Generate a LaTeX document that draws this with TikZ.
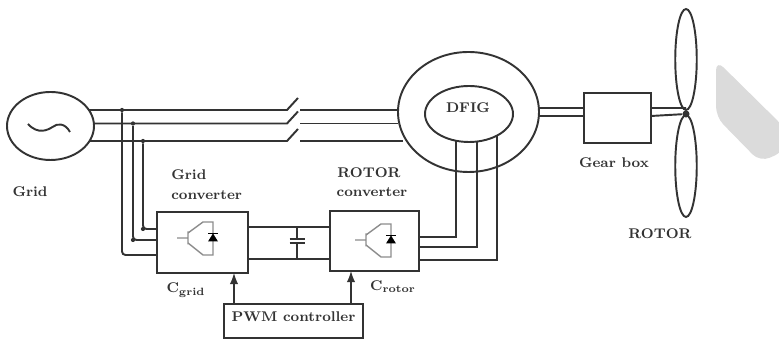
\documentclass[tikz,border=0pt]{standalone}
\usetikzlibrary{shapes.geometric}
\tikzset{
    wire/.style={draw=black!80, line width=1.1pt},
    machine/.style={ellipse, draw=black!80, line width=1.1pt, inner sep=0pt, outer sep=0pt},
    block/.style={rectangle, draw=black!80, line width=1.2pt, inner sep=0pt, outer sep=0pt},
    label text/.style={font=\footnotesize\bfseries, text=black!80, inner sep=0pt},
    joint/.style={circle, fill=black!80, inner sep=0pt, minimum size=2.4pt},
    igbt/.pic={
        \draw [black!45, line width=0.8pt] (0,0) -- (0.22,0) (0.22,0.13) -- (0.22,-0.13)
            (0.22,0.10) -- (0.52,0.32) -- (0.72,0.32) -- (0.72,-0.34) -- (0.52,-0.34) -- (0.22,-0.10);
        \fill [black] (0.62,-0.07) -- (0.82,-0.07) -- (0.72,0.09) -- cycle;
        \draw [black, line width=0.8pt] (0.62,0.09) -- (0.82,0.09);
    }
}
\begin{document}
\begin{tikzpicture}[x=1cm, y=1cm, >=latex]
    \useasboundingbox (0,0) rectangle (15.58,6.82);

    % Grey corner
    \fill [black!14, rounded corners=6pt] (14.32,5.62) -- (15.70,4.26) -- (15.70,3.80) -- (15.20,3.58) -- (14.32,4.48) -- cycle;

    % Machines
    \node [machine, minimum width=1.74cm, minimum height=1.36cm] (grid) at (1.01,4.30) {};
    \node [machine, minimum width=2.82cm, minimum height=2.40cm] (stator) at (9.37,4.58) {};
    \node [machine, minimum width=1.76cm, minimum height=1.12cm] (dfig) at (9.38,4.54) {};
    \node [label text] (dfigtext) at (9.36,4.66) {DFIG};
    \draw [wire] (0.56,4.34) .. controls (0.76,4.12) and (0.96,4.22) .. (1.05,4.28) .. controls (1.15,4.36) and (1.30,4.36) .. (1.40,4.18);

    % Converters
    \node [block, minimum width=1.82cm, minimum height=1.22cm] (gridconv) at (4.05,1.97) {};
    \node [block, minimum width=1.78cm, minimum height=1.20cm] (rotorconv) at (7.49,2.00) {};
    \node [block, minimum width=2.78cm, minimum height=0.68cm, font=\footnotesize\bfseries, text=black!80, text depth=1.8mm] (pwm) at (5.87,0.40) {PWM controller};
    \node [block, minimum width=1.34cm, minimum height=1.00cm] (gearbox) at (12.35,4.46) {};
    \pic at (3.54,2.06) {igbt};
    \pic at (7.10,2.02) {igbt};

    % Phases and switches
    \foreach \ph/\yy/\xa/\xb in {a/4.62/1.78/7.94, b/4.35/1.88/7.96, c/4.00/1.79/8.06} {
        \coordinate (\ph1) at (\xa,\yy);
        \coordinate (\ph2) at (5.74,\yy);
        \coordinate (\ph3) at (5.96,\yy+0.24);
        \coordinate (\ph4) at (6.00,\yy);
        \coordinate (\ph5) at (\xb,\yy);
        \draw [wire] (\ph1) -- (\ph2) -- (\ph3);
        \draw [wire] (\ph4) -- (\ph5);
    }

    % Taps to grid converter
    \foreach \ph/\xx/\yy/\yc in {a/2.44/1.72/4.62, b/2.66/2.02/4.35, c/2.86/2.24/4.00} {
        \node [joint] (tap\ph) at (\xx,\yc) {};
        \coordinate (in\ph) at (3.14,\yy);
        \draw [wire, rounded corners=2pt] (tap\ph) |- (in\ph);
    }
    \node [joint] (cornerb) at (2.66,2.02) {};
    \node [joint] (cornerc) at (2.86,2.24) {};

    % DC link
    \coordinate (dctop) at (5.94,2.28);
    \coordinate (dcbot) at (5.94,1.64);
    \coordinate (platea) at (5.94,2.04);
    \coordinate (plateb) at (5.94,1.96);
    \draw [wire] (4.96,2.28) -- (6.60,2.28);
    \draw [wire] (4.96,1.64) -- (6.60,1.64);
    \draw [wire] (dctop) -- (platea) (plateb) -- (dcbot);
    \draw [wire, line width=1.2pt] (5.79,2.04) -- (6.09,2.04) (5.79,1.96) -- (6.09,1.96);

    % Rotor side
    \foreach \nm/\xx/\yt/\yb in {p/9.12/4.00/2.08, q/9.54/3.98/1.88, r/9.94/4.12/1.62} {
        \coordinate (top\nm) at (\xx,\yt);
        \coordinate (out\nm) at (8.38,\yb);
        \draw [wire] (top\nm) |- (out\nm);
    }

    % PWM signals
    \coordinate (pwmgrid) at (4.68,1.36);
    \coordinate (pwmrotor) at (7.02,1.40);
    \draw [->, wire, line width=1.2pt] (pwmgrid |- pwm.north) -- (pwmgrid);
    \draw [->, wire, line width=1.2pt] (pwmrotor |- pwm.north) -- (pwmrotor);

    % Shaft and blades
    \node [machine, minimum width=0.43cm, minimum height=2.02cm] (bladeup) at (13.72,5.63) {};
    \node [machine, minimum width=0.43cm, minimum height=2.04cm] (bladedown) at (13.72,3.50) {};
    \node [joint, minimum size=4pt] (hub) at (13.72,4.54) {};
    \draw [wire] (10.78,4.66) -- (11.68,4.66) (10.78,4.50) -- (11.68,4.50);
    \draw [wire] (13.02,4.66) -- (13.72,4.66) (13.02,4.50) -- (hub);

    % Labels
    \node [label text] (gridtext) at (0.60,2.99) {Grid};
    \node [label text, anchor=west] (gridconvup) at (3.42,3.32) {Grid};
    \node [label text, anchor=west] (gridconvlow) at (3.42,2.92) {converter};
    \node [label text] (rotorconvup) at (7.38,3.36) {ROTOR};
    \node [label text] (rotorconvlow) at (7.44,2.98) {converter};
    \node [label text] (cgrid) at (3.72,1.02) {C$_{\mathbf{grid}}$};
    \node [label text] (crotor) at (7.86,1.08) {C$_{\mathbf{rotor}}$};
    \node [label text] (gearboxtext) at (12.28,3.56) {Gear box};
    \node [label text] (rotortext) at (13.20,2.14) {ROTOR};
\end{tikzpicture}
\end{document}
